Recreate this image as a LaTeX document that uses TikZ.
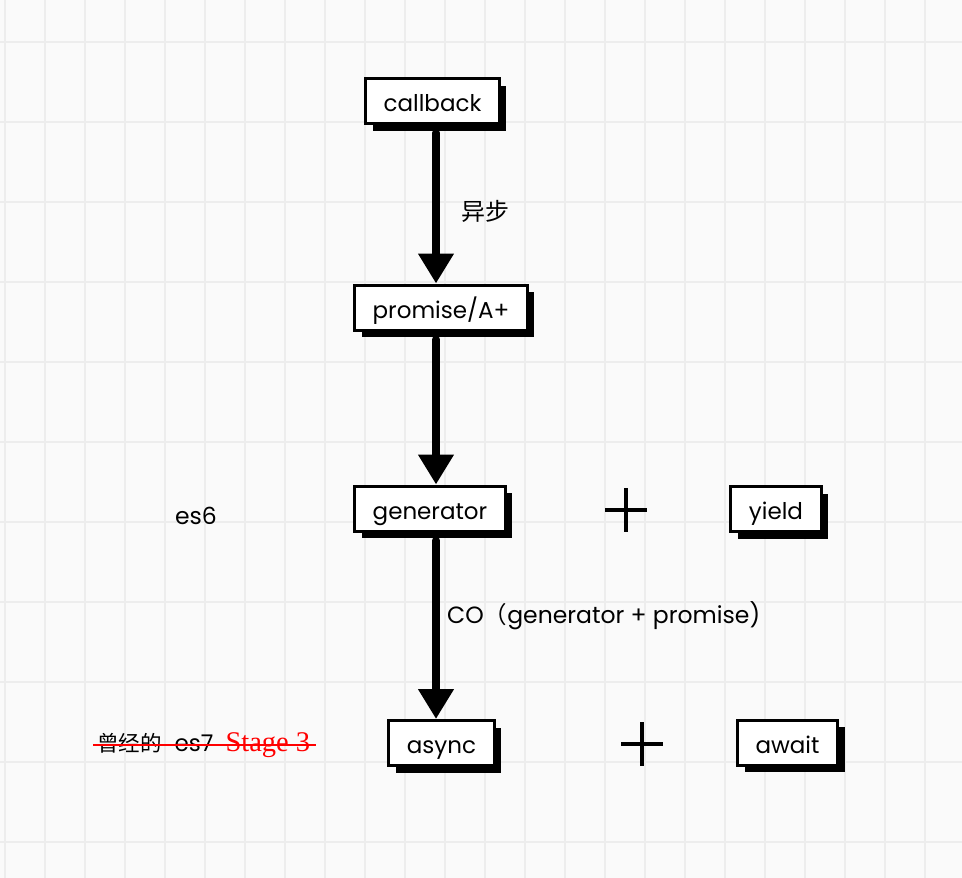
\documentclass[tikz,border=0pt]{standalone}
\usepackage{fontspec}
\setmainfont{Poppins}
\newfontfamily\cjk{Noto Sans CJK SC}
\newfontfamily\timesfont{Liberation Serif}
\usetikzlibrary{arrows.meta,shadows}
\definecolor{paper}{RGB}{250,250,250}
\definecolor{gridgray}{RGB}{237,237,237}

\begin{document}
\begin{tikzpicture}[x=10pt,y=10pt]
            \tikzstyle{every node}+=[inner sep=0pt]
            \tikzstyle{box}=[draw=black, line width=3pt, fill=white, inner xsep=18pt, minimum height=45pt, text height=23pt, text depth=2pt, font=\fontsize{23}{26}\selectfont, drop shadow={shadow xshift=7pt, shadow yshift=-7pt, opacity=1, fill=black}]
            \tikzstyle{flow}=[line width=8pt, line cap=round, -{Triangle[width=34pt,length=30pt]}, shorten <=8pt]
            \tikzstyle{note}=[font=\fontsize{23.5}{26}\selectfont]
            \tikzstyle{plussign}=[minimum width=42pt, minimum height=44pt, path picture={\draw [line width=3.5pt] (path picture bounding box.north) -- (path picture bounding box.south) (path picture bounding box.west) -- (path picture bounding box.east);}]
            \useasboundingbox (0,0) rectangle (96.2,-87.8);
            \fill [paper] (0,0) rectangle (96.2,-87.8);
            \draw [gridgray, line width=2.5pt, shift={(0.5,-4.2)}, xstep=4, ystep=8] (-0.5,-83.6) grid (95.7,4.2);
            \node [box] (callback) at (43.25,-10.1) {callback};
            \node [box] (promise) at (44.1,-30.75) {promise/A+};
            \node [box] (generator) at (43,-50.85) {generator};
            \node [box] (yield) at (77.6,-50.9) {yield};
            \node [box] (async) at (44.15,-74.3) {async};
            \node [box] (await) at (78.75,-74.25) {await};
            \node [plussign] (plusyield) at (62.6,-51) {};
            \node [plussign] (plusawait) at (64.2,-74.4) {};
            \coordinate (spine) at (43.6,0);
            \draw [flow] (callback.south -| spine) -- (promise.north -| spine);
            \draw [flow] (promise.south -| spine) -- (generator.north -| spine);
            \draw [flow] (generator.south -| spine) -- (async.north -| spine);
            \node [note, font=\cjk\fontsize{24}{28}\selectfont] (asynclabel) at (48.5,-21.1) {异步};
            \node [note, anchor=west] (colabel) at (44.7,-61.6) {CO{\cjk （}generator + promise)};
            \node [note] (es6label) at (19.6,-51.6) {es6};
            \node [note, anchor=west, font=\fontsize{23}{26}\selectfont] (es7label) at (9.7,-74.5) {{\cjk\fontsize{21.5}{26}\selectfont 曾经的}\hspace{13pt}es7\hspace{12pt}{\timesfont\fontsize{28.5}{30}\selectfont\color{red}Stage 3}};
            \draw [red, line width=1.3pt] ([xshift=-4pt]es7label.west) -- ([xshift=6pt]es7label.east);
\end{tikzpicture}
\end{document}
